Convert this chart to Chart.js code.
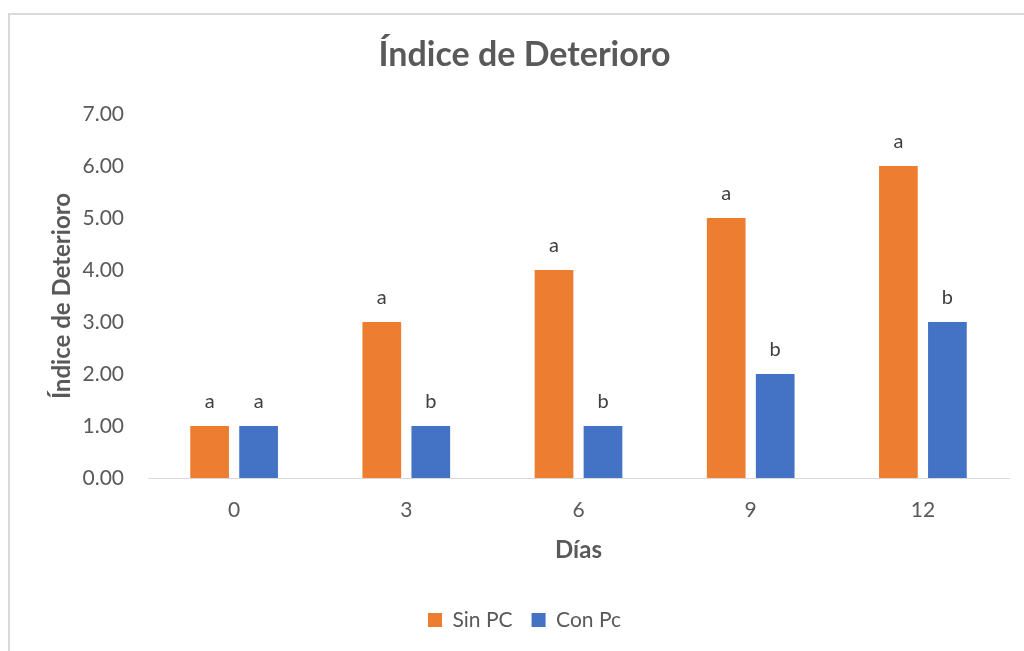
<!DOCTYPE html>
<html>
<head>
<meta charset="utf-8">
<script src="https://cdn.jsdelivr.net/npm/chart.js@4.4.1/dist/chart.umd.min.js"></script>
<style>
  html, body { margin: 0; padding: 0; background: #ffffff; overflow: hidden; }
  #wrap { position: relative; width: 1024px; height: 651px; }
  #frame { position: absolute; left: 8px; top: 13px; width: 1100px; height: 700px; border-left: 2px solid #d9d9d9; border-top: 2px solid #d9d9d9; box-sizing: border-box; }
  canvas { position: absolute; left: 0; top: 0; }
</style>
</head>
<body>
<div id="wrap">
  <div id="frame"></div>
  <canvas id="c" width="1024" height="651"></canvas>
</div>
<script>
const categories = ['0', '3', '6', '9', '12'];
const sinPC = [1, 3, 4, 5, 6];
const conPc = [1, 1, 1, 2, 3];
const sinPCLetters = ['a', 'a', 'a', 'a', 'a'];
const conPcLetters = ['a', 'b', 'b', 'b', 'b'];
const yTicks = [0, 1, 2, 3, 4, 5, 6, 7];

const FONT = 'Lato, "Open Sans", sans-serif';

const letterPlugin = {
  id: 'letters',
  afterDatasetsDraw(chart) {
    const ctx = chart.ctx;
    const letters = [sinPCLetters, conPcLetters];
    ctx.save();
    ctx.font = '20px ' + FONT;
    ctx.fillStyle = '#404040';
    ctx.textAlign = 'center';
    ctx.textBaseline = 'middle';
    chart.data.datasets.forEach((ds, di) => {
      const meta = chart.getDatasetMeta(di);
      meta.data.forEach((bar, i) => {
        ctx.fillText(letters[di][i], bar.x, bar.y - 24);
      });
    });
    ctx.restore();
  }
};

new Chart(document.getElementById('c'), {
  type: 'bar',
  data: {
    labels: categories,
    datasets: [
      { label: 'Sin PC', data: sinPC, backgroundColor: '#ED7D31', categoryPercentage: 0.569, barPercentage: 0.79 },
      { label: 'Con Pc', data: conPc, backgroundColor: '#4472C4', categoryPercentage: 0.569, barPercentage: 0.79 }
    ]
  },
  options: {
    responsive: false,
    devicePixelRatio: 1,
    animation: false,
    layout: { padding: { left: 40, right: 15, top: 0, bottom: 10.5 } },
    plugins: {
      title: {
        display: true,
        text: 'Índice de Deterioro',
        color: '#595959',
        font: { family: FONT, size: 34, weight: 'bold' },
        padding: { top: 34.6, bottom: 38.6 }
      },
      legend: {
        display: true,
        position: 'bottom',
        labels: {
          color: '#595959',
          font: { family: FONT, size: 21 },
          boxWidth: 14,
          boxHeight: 14,
          padding: 19
        }
      },
      tooltip: { enabled: false }
    },
    scales: {
      x: {
        grid: { display: false },
        border: { display: true, color: '#d9d9d9', width: 1 },
        ticks: { color: '#595959', font: { family: FONT, size: 21 }, padding: 12 },
        title: {
          display: true,
          text: 'Días',
          color: '#595959',
          font: { family: FONT, size: 24, weight: 'bold' },
          padding: { top: 10, bottom: 26 }
        },
        afterFit(scale) { scale.height = 112.5; }
      },
      y: {
        min: 0,
        max: 7,
        grid: { display: false },
        border: { display: false },
        afterBuildTicks(scale) { scale.ticks = yTicks.map(v => ({ value: v })); },
        ticks: {
          color: '#595959',
          font: { family: FONT, size: 21 },
          padding: 16,
          callback: (v) => Number(v).toFixed(2)
        },
        title: {
          display: true,
          text: 'Índice de Deterioro',
          color: '#595959',
          font: { family: FONT, size: 24, weight: 'bold' },
          padding: { top: 8, bottom: 0 }
        },
        afterFit(scale) { scale.width = 108; }
      }
    }
  },
  plugins: [letterPlugin]
});
</script>
</body>
</html>
